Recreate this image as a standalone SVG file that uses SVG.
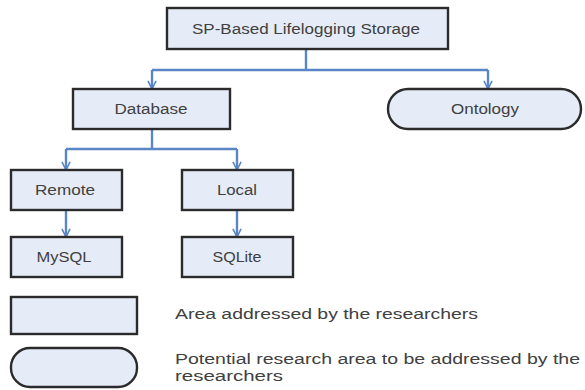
<svg xmlns="http://www.w3.org/2000/svg" width="585" height="390" viewBox="0 0 585 390">
<style>
.box{fill:#e6ecf7;stroke:#2b2b2b;stroke-width:2.4}
.lbl{font-family:"Liberation Sans",Arial,sans-serif;font-size:14px;fill:#404040;text-anchor:middle}
.leg{font-family:"Liberation Sans",Arial,sans-serif;font-size:15.5px;fill:#404040}
.con{fill:none;stroke:#5a86c5;stroke-width:2.4}
</style>
<defs>
<marker id="arr" viewBox="0 0 10 10" refX="10" refY="5" markerWidth="9" markerHeight="11" orient="auto" markerUnits="userSpaceOnUse">
<path d="M1,0.5 L10,5 L1,9.5" fill="none" stroke="#5a86c5" stroke-width="1.8"/>
</marker>
</defs>
<g id="connectors">
<path class="con" d="M306,49 V70"/>
<path class="con" d="M152,70 H488"/>
<path class="con" d="M152,70 V89" marker-end="url(#arr)"/>
<path class="con" d="M488,70 V89" marker-end="url(#arr)"/>
<path class="con" d="M152,129 V149"/>
<path class="con" d="M66,149 H237"/>
<path class="con" d="M66,149 V170" marker-end="url(#arr)"/>
<path class="con" d="M237,149 V170" marker-end="url(#arr)"/>
<path class="con" d="M66,210 V237" marker-end="url(#arr)"/>
<path class="con" d="M237,210 V237" marker-end="url(#arr)"/>
</g>
<g id="root"><rect class="box" x="167" y="8" width="281" height="41"/><text class="lbl" x="306" y="34" textLength="228" lengthAdjust="spacingAndGlyphs">SP-Based Lifelogging Storage</text></g>
<g id="database"><rect class="box" x="73" y="89" width="157" height="40"/><text class="lbl" x="151" y="114" textLength="73" lengthAdjust="spacingAndGlyphs">Database</text></g>
<g id="ontology"><rect class="box" x="388" y="89" width="193" height="40" rx="20"/><text class="lbl" x="485" y="114" textLength="68" lengthAdjust="spacingAndGlyphs">Ontology</text></g>
<g id="remote"><rect class="box" x="11" y="170" width="111" height="40"/><text class="lbl" x="65" y="195" textLength="60" lengthAdjust="spacingAndGlyphs">Remote</text></g>
<g id="local"><rect class="box" x="182" y="170" width="111" height="40"/><text class="lbl" x="237" y="195" textLength="40" lengthAdjust="spacingAndGlyphs">Local</text></g>
<g id="mysql"><rect class="box" x="11" y="237" width="111" height="40"/><text class="lbl" x="64" y="262" textLength="55" lengthAdjust="spacingAndGlyphs">MySQL</text></g>
<g id="sqlite"><rect class="box" x="182" y="237" width="111" height="40"/><text class="lbl" x="237" y="262" textLength="49" lengthAdjust="spacingAndGlyphs">SQLite</text></g>
<g id="legend-rect"><rect class="box" x="11" y="297" width="126" height="37"/><text class="leg" x="175" y="319" textLength="303" lengthAdjust="spacingAndGlyphs">Area addressed by the researchers</text></g>
<g id="legend-round"><rect class="box" x="11" y="348" width="126" height="39" rx="19"/><text class="leg" x="175" y="364" textLength="405" lengthAdjust="spacingAndGlyphs">Potential research area to be addressed by the</text><text class="leg" x="175" y="381" textLength="108" lengthAdjust="spacingAndGlyphs">researchers</text></g>
</svg>
